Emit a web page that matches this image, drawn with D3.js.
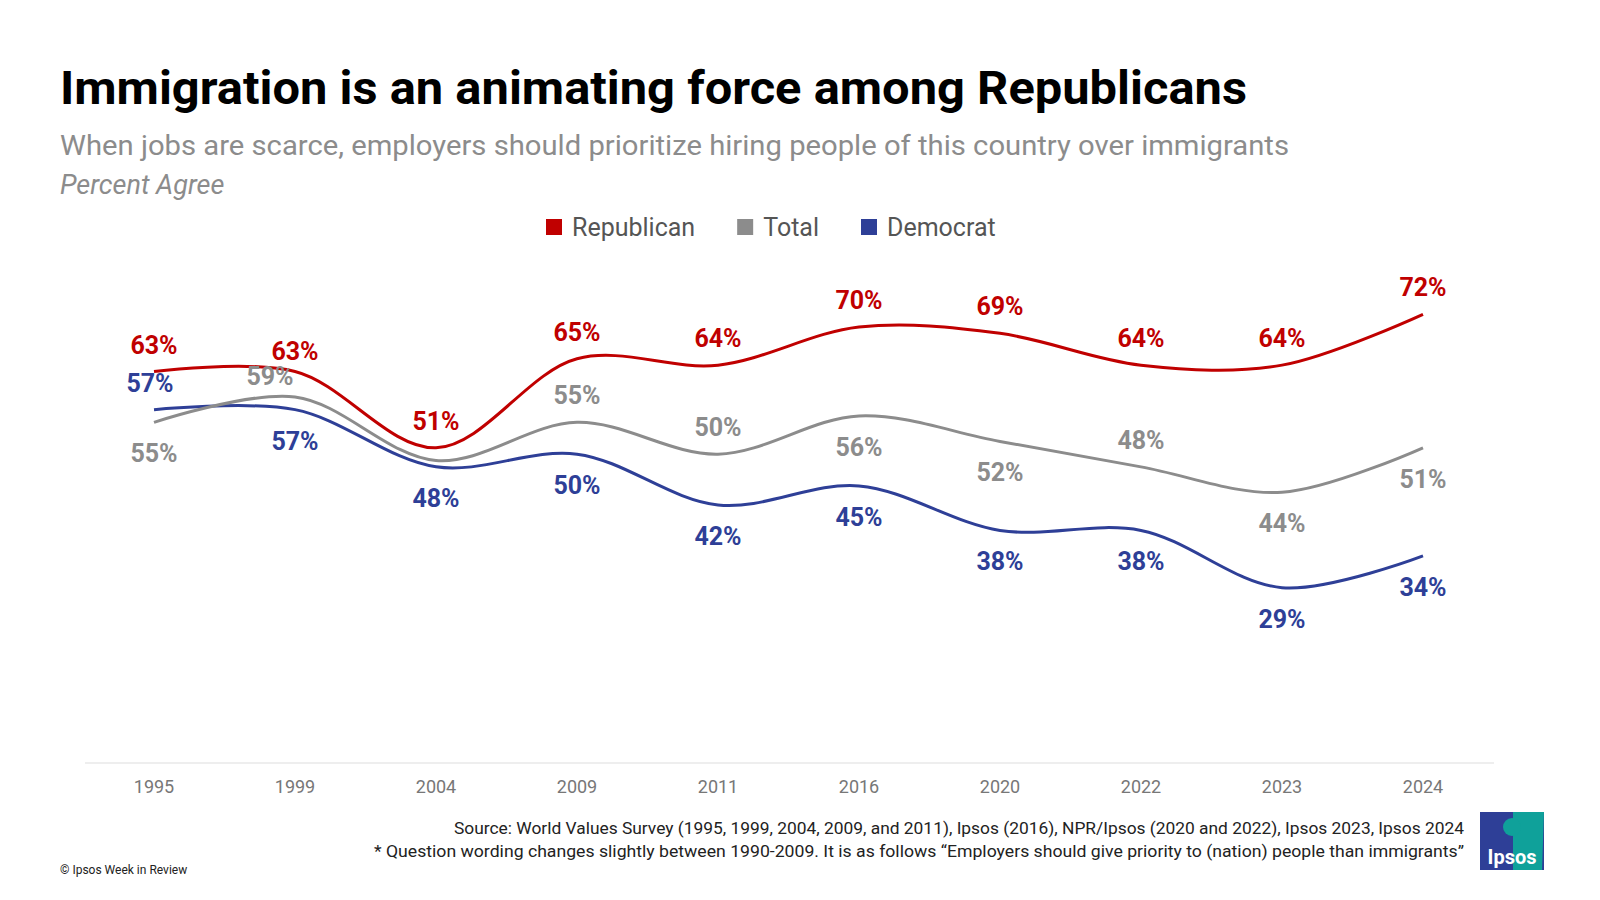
<!DOCTYPE html>
<html><head><meta charset="utf-8">
<script src="https://cdn.jsdelivr.net/npm/d3@7"></script>
<style>body{margin:0;background:#fff}svg{font-family:Roboto,sans-serif}</style>
</head><body><svg id="c" width="1600" height="900"></svg>
<script>
const years = ['1995','1999','2004','2009','2011','2016','2020','2022','2023','2024'];
const republican = [63,63,51,65,64,70,69,64,64,72];
const total = [55,59,49,55,50,56,52,48,44,51];
const democrat = [57,57,48,50,42,45,38,38,29,34];
// label side: 1 above, -1 below, 0 none
const repSide = [1,1,1,1,1,1,1,1,1,1];
const totSide = [-1,1,0,1,1,-1,-1,1,-1,-1];
const demSide = [1,-1,-1,-1,-1,-1,-1,-1,-1,-1];

const series = [
  {name:'Republican', values:republican, side:repSide, color:'#c00000'},
  {name:'Total', values:total, side:totSide, color:'#8c8c8c'},
  {name:'Democrat', values:democrat, side:demSide, color:'#2e3f97'}
];
// small label nudges to avoid collisions, keyed "series|year"
const nudge = {'Republican|1999':[0,6], 'Total|1999':[-25,6], 'Democrat|1995':[-4,0]};

const svg = d3.select('#c');
const x = d3.scalePoint().domain(years).range([154,1423]);
const y = d3.scaleLinear().domain([0,70]).range([772,327]);

svg.append('text').attr('x',60).attr('y',104).attr('font-size',46).attr('font-weight',700)
  .attr('fill','#000').attr('textLength',1187).attr('lengthAdjust','spacingAndGlyphs')
  .text('Immigration is an animating force among Republicans');
svg.append('text').attr('x',60).attr('y',155).attr('font-size',27).attr('fill','#8c8c8c')
  .attr('textLength',1229).attr('lengthAdjust','spacingAndGlyphs')
  .text('When jobs are scarce, employers should prioritize hiring people of this country over immigrants');
svg.append('text').attr('x',60).attr('y',194).attr('font-size',27).attr('font-style','italic').attr('fill','#8c8c8c')
  .text('Percent Agree');

// legend
const lg = svg.append('g');
let lx = 546;
series.forEach(s => {
  lg.append('rect').attr('x',lx).attr('y',219).attr('width',16).attr('height',16).attr('fill',s.color);
  const t = lg.append('text').attr('x',lx+26).attr('y',236).attr('font-size',25).attr('fill','#555').text(s.name);
  lx += 26 + t.node().getComputedTextLength() + 42;
});

// axis
svg.append('line').attr('x1',85).attr('x2',1494).attr('y1',763).attr('y2',763).attr('stroke','#ddd');
years.forEach(yr => svg.append('text').attr('x',x(yr)).attr('y',793).attr('text-anchor','middle')
  .attr('font-size',18).attr('fill','#777').text(yr));

const line = d3.line().x((d,i)=>x(years[i])).y(d=>y(d)).curve(d3.curveCatmullRom.alpha(0.5));
series.slice().reverse().forEach(s => {
  svg.append('path').attr('d',line(s.values)).attr('fill','none').attr('stroke',s.color).attr('stroke-width',3);
});
series.forEach(s => {
  s.values.forEach((v,i) => {
    if (!s.side[i]) return;
    const [dx,dy] = nudge[s.name + '|' + years[i]] || [0,0];
    svg.append('text').attr('x',x(years[i]) + dx).attr('y',y(v) + (s.side[i] > 0 ? -18 : 40) + dy)
      .attr('text-anchor','middle').attr('font-size',25).attr('font-weight',700)
      .attr('fill',s.color).text(v + '%');
  });
});

svg.append('text').attr('x',1464).attr('y',834).attr('text-anchor','end').attr('font-size',16).attr('fill','#222')
  .attr('textLength',1010).attr('lengthAdjust','spacingAndGlyphs')
  .text('Source: World Values Survey (1995, 1999, 2004, 2009, and 2011), Ipsos (2016), NPR/Ipsos (2020 and 2022), Ipsos 2023, Ipsos 2024');
svg.append('text').attr('x',1464).attr('y',857).attr('text-anchor','end').attr('font-size',16).attr('fill','#222')
  .attr('textLength',1090).attr('lengthAdjust','spacingAndGlyphs')
  .text('* Question wording changes slightly between 1990-2009. It is as follows \u201cEmployers should give priority to (nation) people than immigrants\u201d');
svg.append('text').attr('x',60).attr('y',874).attr('font-size',12).attr('fill','#222').text('\u00a9 Ipsos Week in Review');

// logo
const logo = svg.append('g').attr('transform','translate(1480,812)');
logo.append('rect').attr('width',64).attr('height',58).attr('fill','#2e3f97');
logo.append('path').attr('d','M33,0 L64,0 L62,58 L33,58 Z').attr('fill','#0fa19a');
logo.append('circle').attr('cx',32).attr('cy',15).attr('r',9).attr('fill','#0fa19a');
logo.append('text').attr('x',32).attr('y',52).attr('text-anchor','middle').attr('font-size',20)
  .attr('font-weight',700).attr('fill','#fff').text('Ipsos');
</script></body></html>
